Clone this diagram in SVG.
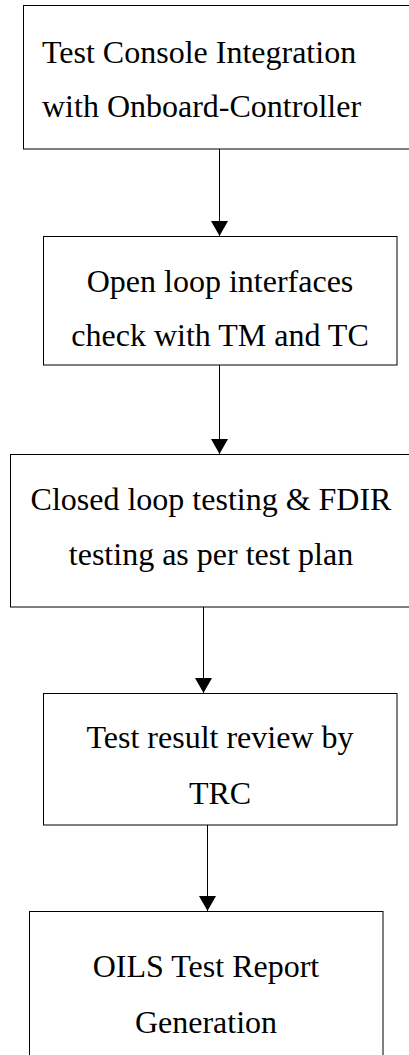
<svg xmlns="http://www.w3.org/2000/svg" width="409" height="1055" viewBox="0 0 409 1055">
<style>
.box{fill:#ffffff;stroke:#000000;stroke-width:1}
.lbl{font-family:"Liberation Serif","Times New Roman",serif;font-size:32px;fill:#000000}
.c{text-anchor:middle}
.conn{stroke:#000000;stroke-width:1;fill:none}
</style>
<defs>
<marker id="ah" markerWidth="15" markerHeight="17" refX="15" refY="8.5" orient="auto" markerUnits="userSpaceOnUse">
<path d="M0,0 L15,8.5 L0,17 Z" fill="#000000"/>
</marker>
</defs>
<rect width="409" height="1055" fill="#ffffff"/>
<g id="connectors">
<line class="conn" x1="219.5" y1="149" x2="219.5" y2="236" marker-end="url(#ah)"/>
<line class="conn" x1="219.5" y1="365" x2="219.5" y2="454" marker-end="url(#ah)"/>
<line class="conn" x1="203.5" y1="607" x2="203.5" y2="693" marker-end="url(#ah)"/>
<line class="conn" x1="207.5" y1="825" x2="207.5" y2="911" marker-end="url(#ah)"/>
</g>
<g id="node1">
<rect class="box" x="23.5" y="5.5" width="420" height="143.5"/>
<text class="lbl" x="42" y="63">Test Console Integration</text>
<text class="lbl" x="42" y="117">with Onboard-Controller</text>
</g>
<g id="node2">
<rect class="box" x="43.5" y="236.5" width="353.5" height="128.5"/>
<text class="lbl c" x="220" y="292">Open loop interfaces</text>
<text class="lbl c" x="220" y="346">check with TM and TC</text>
</g>
<g id="node3">
<rect class="box" x="10.5" y="454.5" width="420" height="152.5"/>
<text class="lbl c" x="211" y="510">Closed loop testing &amp; FDIR</text>
<text class="lbl c" x="211" y="565">testing as per test plan</text>
</g>
<g id="node4">
<rect class="box" x="43.5" y="693.5" width="353.5" height="131.5"/>
<text class="lbl c" x="220" y="748">Test result review by</text>
<text class="lbl c" x="220" y="804">TRC</text>
</g>
<g id="node5">
<rect class="box" x="29.5" y="911.5" width="353.5" height="160"/>
<text class="lbl c" x="206" y="977">OILS Test Report</text>
<text class="lbl c" x="206" y="1033">Generation</text>
</g>
</svg>
